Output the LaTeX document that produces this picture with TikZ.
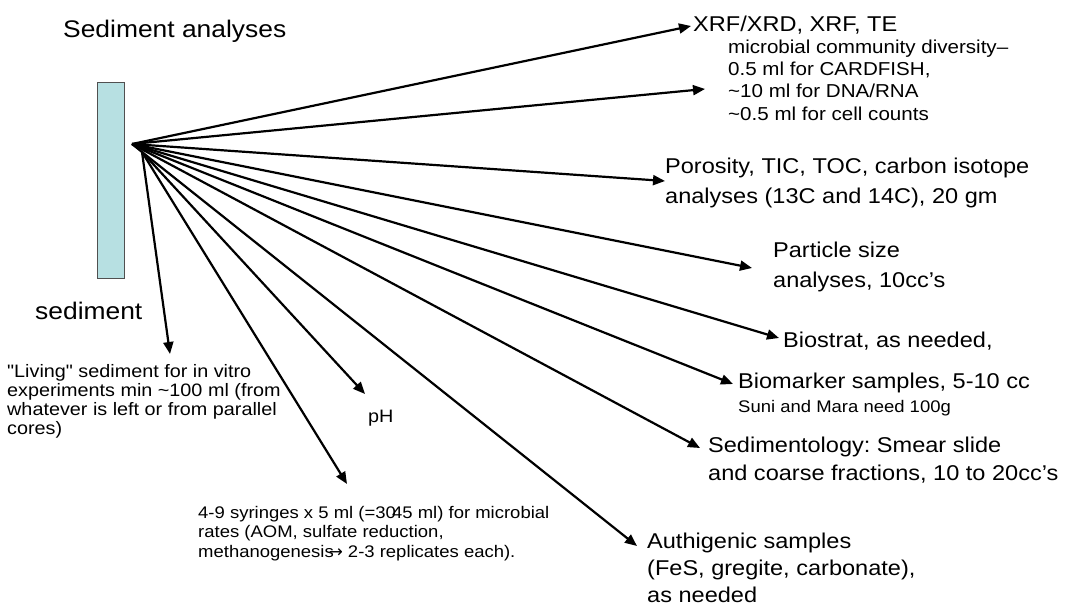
\documentclass[tikz,border=0pt]{standalone}
\usepackage{fontspec}
\setmainfont{Liberation Sans}[FakeStretch=1.1]
\newfontfamily\plainq{Liberation Sans}[FakeStretch=1.1,Ligatures=ResetAll]
\newfontfamily\symfont{DejaVu Sans}
\usetikzlibrary{arrows.meta}
\definecolor{corefill}{RGB}{183,224,226}
\definecolor{coreline}{RGB}{80,80,80}
\newcommand{\sq}{{\plainq\char34}}
\begin{document}
\frenchspacing
\begin{tikzpicture}[x=1pt,y=-1pt,
  arr/.style={line width=2.2pt,-{Triangle[length=12pt,width=10pt]}},
  lbl/.style={inner sep=0pt,align=left},
  titlefont/.style={font=\fontsize{24}{28}\selectfont},
  bigfont/.style={font=\fontsize{21.4}{#1}\selectfont},
  bigfont/.default=30,
  midfont/.style={font=\fontsize{18.7}{22.3}\selectfont},
  smallfont/.style={font=\fontsize{16.8}{19.5}\selectfont},
  livfont/.style={font=\fontsize{18}{19}\selectfont}]
\useasboundingbox (0,0) rectangle (1069,610);

% core and labels
\node[lbl,titlefont,anchor=base west] (title) at (63,38) {Sediment analyses};
\node[draw=coreline,line width=1pt,fill=corefill,minimum width=27pt,minimum height=196pt,inner sep=0pt,anchor=north west] (core) at (97,82) {};
\node[lbl,titlefont,anchor=base west] (sedlbl) at (35,319) {sediment};

% fan origins
\coordinate (A) at (132,144);
\coordinate (B) at (142,152);

% target labels
\node[lbl,bigfont,anchor=base west] (xrf) at (693,32) {XRF/XRD, XRF, TE};
\node[lbl,midfont,anchor=north west] (micro) at (728,39.5) {microbial community diversity–\\0.5 ml for CARDFISH,\\\textasciitilde10 ml for DNA/RNA\\\textasciitilde0.5 ml for cell counts};
\node[lbl,bigfont,anchor=north west] (poro) at (665,157.5) {Porosity, TIC, TOC, carbon isotope\\analyses (13C and 14C), 20 gm};
\node[lbl,bigfont,anchor=north west] (part) at (773,241.5) {Particle size\\analyses, 10cc’s};
\node[lbl,bigfont,anchor=base west] (bios) at (783,347) {Biostrat, as needed,};
\node[lbl,bigfont,anchor=base west] (biom) at (738,388) {Biomarker samples, 5-10 cc};
\node[lbl,smallfont,anchor=base west] (suni) at (738,412) {Suni and Mara need 100g};
\node[lbl,bigfont=28,anchor=north west] (sedim) at (708,436.5) {Sedimentology: Smear slide\\and coarse fractions, 10 to 20cc’s};
\node[lbl,bigfont=27,anchor=north west] (auth) at (647,533) {Authigenic samples\\(FeS, gregite, carbonate),\\as needed};
\node[lbl,livfont,anchor=north west] (living) at (7,364) {\sq Living\sq{} sediment for in vitro\\experiments min \textasciitilde100 ml (from\\whatever is left or from parallel\\cores)};
\node[lbl,livfont,anchor=base west] (ph) at (368,422) {pH};
\node[lbl,smallfont,anchor=north west] (syr) at (198,506) {4-9 syringes x 5 ml (=30\kern-.22em45 ml) for microbial\\rates (AOM, sulfate reduction,\\methanogenesis\kern-.3em{\symfont →} 2-3 replicates each).};

% arrow tips
\coordinate (t1) at (691,26);
\coordinate (t2) at (705,89);
\coordinate (t3) at (665,181);
\coordinate (t4) at (752,268);
\coordinate (t5) at (779,338);
\coordinate (t6) at (733,384);
\coordinate (t7) at (700,448);
\coordinate (t8) at (637,546);
\coordinate (t9) at (347,484);
\coordinate (t10) at (365,394);
\coordinate (t11) at (170,354);

\draw[arr] (A) -- (t1);
\draw[arr] (A) -- (t2);
\draw[arr] (A) -- (t3);
\draw[arr] (A) -- (t4);
\draw[arr] (A) -- (t5);
\draw[arr] (A) -- (t6);
\draw[arr] (A) -- (t7);
\draw[arr] (A) -- (t8);
\draw[arr] (B) -- (t9);
\draw[arr] (B) -- (t10);
\draw[arr] (B) -- (t11);
\end{tikzpicture}
\end{document}
